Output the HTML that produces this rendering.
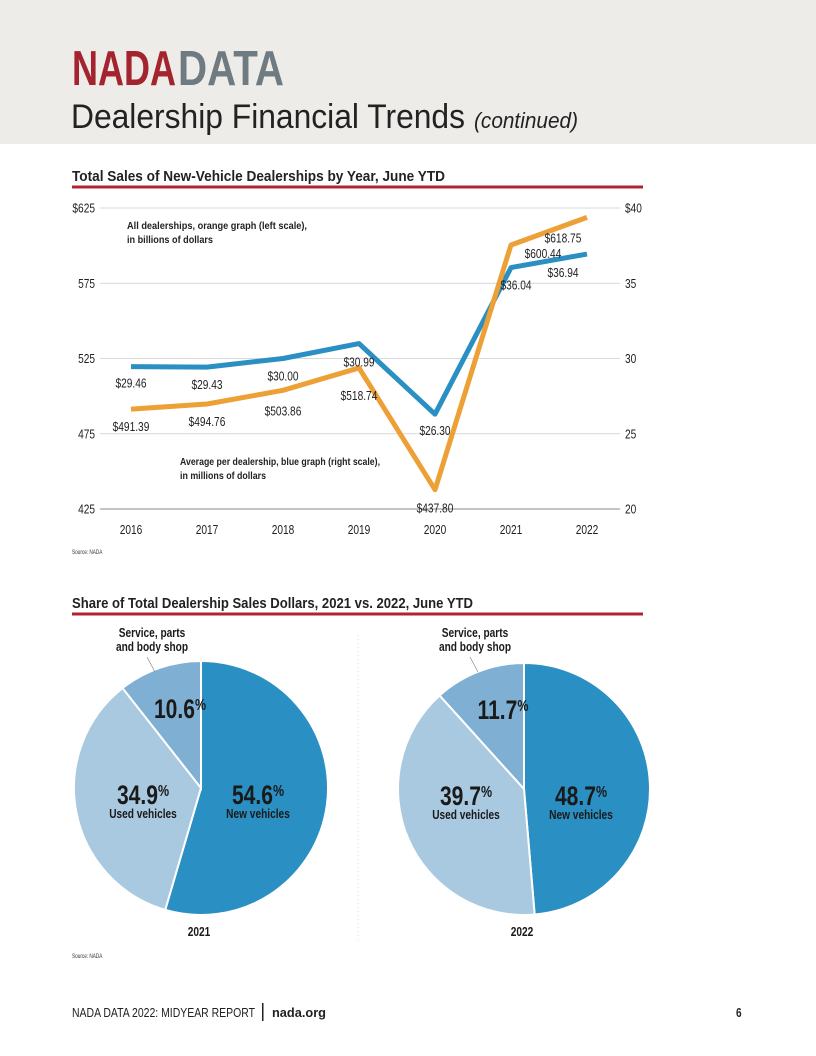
<!DOCTYPE html>
<html><head><meta charset="utf-8"><style>
html,body{margin:0;padding:0;background:#fff}
svg{display:block}
text{font-family:"Liberation Sans Narrow","Liberation Sans",sans-serif}
.b{font-weight:bold}
</style></head><body>
<svg id="pg" width="816" height="1056" viewBox="0 0 816 1056" xmlns="http://www.w3.org/2000/svg">
<rect x="0" y="0" width="816" height="144" fill="#eeece9"/>
<text x="72" y="85" font-size="49" class="b" fill="#a3242e" textLength="104" lengthAdjust="spacingAndGlyphs">NADA</text>
<text x="178" y="85" font-size="49" class="b" fill="#6f7b80" textLength="106" lengthAdjust="spacingAndGlyphs">DATA</text>
<text x="71" y="128" font-size="34" fill="#222" textLength="394" lengthAdjust="spacingAndGlyphs">Dealership Financial Trends</text>
<text x="474" y="128" font-size="22" font-style="italic" fill="#222" textLength="104" lengthAdjust="spacingAndGlyphs">(continued)</text>

<text x="72" y="181" font-size="14.5" class="b" fill="#222" textLength="373" lengthAdjust="spacingAndGlyphs">Total Sales of New-Vehicle Dealerships by Year, June YTD</text>
<rect x="72" y="185.5" width="571" height="3" fill="#b0232f"/>
<g id="line"></g>
<text x="72" y="554" font-size="6" fill="#333">Source: NADA</text>

<text x="72" y="608" font-size="14.5" class="b" fill="#222" textLength="401" lengthAdjust="spacingAndGlyphs">Share of Total Dealership Sales Dollars, 2021 vs. 2022, June YTD</text>
<rect x="72" y="612.5" width="571" height="3" fill="#b0232f"/>
<line x1="358" y1="635" x2="358" y2="940" stroke="#ddd" stroke-width="1" stroke-dasharray="1 3"/>
<g id="pies"></g>
<text x="72" y="958" font-size="6" fill="#333">Source: NADA</text>

<text x="72" y="1017" font-size="13" fill="#222" textLength="183" lengthAdjust="spacingAndGlyphs">NADA DATA 2022: MIDYEAR REPORT</text>
<rect x="262" y="1003" width="1.5" height="18" fill="#222"/>
<text x="272" y="1017" font-size="13" class="b" fill="#222" textLength="54" lengthAdjust="spacingAndGlyphs">nada.org</text>
<text x="736" y="1017" font-size="13" class="b" fill="#222">6</text>
</svg>
<script>
const years=["2016","2017","2018","2019","2020","2021","2022"];
const totalSales=[491.39,494.76,503.86,518.74,437.80,600.44,618.75];
const avgSales=[29.46,29.43,30.00,30.99,26.30,36.04,36.94];
const totalLabels=["$491.39","$494.76","$503.86","$518.74","$437.80","$600.44","$618.75"];
const avgLabels=["$29.46","$29.43","$30.00","$30.99","$26.30","$36.04","$36.94"];
const leftTicks=[425,475,525,575,625];
const rightTicks=[20,25,30,35,40];
const pie2021=[54.6,34.9,10.6];
const pie2022=[48.7,39.7,11.7];
const pieCats=["New vehicles","Used vehicles","Service"];

const NS="http://www.w3.org/2000/svg";
function mk(tag,attrs,parent,txt){const e=document.createElementNS(NS,tag);for(const k in attrs)e.setAttribute(k,attrs[k]);if(txt!==undefined)e.textContent=txt;parent.appendChild(e);return e;}
const X0=131,XS=76,YT=208,YB=509;
const xs=i=>X0+i*XS;
const yl=v=>YB-(v-425)/(625-425)*(YB-YT);
const yr=v=>YB-(v-20)/(40-20)*(YB-YT);
const FS=13;
const g=document.getElementById('line');
leftTicks.forEach((t,i)=>{
  const y=yl(t);
  const ln=mk('line',{x1:100,x2:620,y1:y,y2:y,stroke:i==0?'#888':'#ccc','stroke-width':i==0?1:0.7},g);
  
  const a=mk('text',{x:95,y:y+4.5,'font-size':FS,fill:'#222','text-anchor':'end'},g,(i==4?'$':'')+t);
  
});
rightTicks.forEach((t,i)=>{
  const b=mk('text',{x:625,y:yr(t)+4.5,'font-size':FS,fill:'#222'},g,(i==4?'$':'')+t);
  
});
years.forEach((yv,i)=>{
  const t=mk('text',{x:xs(i),y:534,'font-size':FS,fill:'#222','text-anchor':'middle'},g,yv);
  
});
const bl=mk('polyline',{points:avgSales.map((v,i)=>xs(i)+','+yr(v)).join(' '),fill:'none',stroke:'#2a8fc2','stroke-width':5,'stroke-linejoin':'round'},g);

const ol=mk('polyline',{points:totalSales.map((v,i)=>xs(i)+','+yl(v)).join(' '),fill:'none',stroke:'#eca035','stroke-width':5,'stroke-linejoin':'round'},g);

const oOff=[[0,22],[0,22],[0,25],[0,32],[0,23],[32,13],[-24,25]];
const bOff=[[0,21],[0,22],[0,22],[0,23],[0,21],[5,22],[-24,23]];
totalLabels.forEach((s,i)=>{
  const t=mk('text',{x:xs(i)+oOff[i][0],y:yl(totalSales[i])+oOff[i][1],'font-size':FS,fill:'#222','text-anchor':'middle'},g,s);
  
});
avgLabels.forEach((s,i)=>{
  const t=mk('text',{x:xs(i)+bOff[i][0],y:yr(avgSales[i])+bOff[i][1],'font-size':FS,fill:'#222','text-anchor':'middle'},g,s);
  
});
[["All dealerships, orange graph (left scale),",127,229,180],["in billions of dollars",127,243,86],["Average per dealership, blue graph (right scale),",180,465,200],["in millions of dollars",180,479,86]].forEach(a=>{
  const t=mk('text',{x:a[1],y:a[2],'font-size':10.5,'font-weight':'bold',fill:'#222',textLength:a[3],lengthAdjust:'spacingAndGlyphs'},g,a[0]);
  
});

const pg=document.getElementById('pies');
const cols=['#2a8fc2','#a9c9e1','#7fb0d4'];
function pie(vals,cx,cy,r,lab){
  const tot=vals.reduce((a,b)=>a+b,0);let a0=0;
  vals.forEach((v,i)=>{
    const a1=a0+v/tot*2*Math.PI;
    const p=(a)=>[cx+r*Math.sin(a),cy-r*Math.cos(a)];
    const s=p(a0),e=p(a1);
    const path=mk('path',{d:`M${cx},${cy}L${s[0]},${s[1]}A${r},${r} 0 ${a1-a0>Math.PI?1:0} 1 ${e[0]},${e[1]}Z`,fill:cols[i],stroke:'#fff','stroke-width':2},pg);
    
    
    a0=a1;
  });
  const pos=[[cx+57,cy+16],[cx-58,cy+16],[cx-21,cy-70]];
  vals.forEach((v,i)=>{
    const t=mk('text',{x:pos[i][0],y:pos[i][1],'font-size':27,'font-weight':'bold',fill:'#1a1a1a','text-anchor':'middle'},pg);
    
    mk('tspan',{},t,v.toFixed(1));
    mk('tspan',{'font-size':16,dy:-8},t,'%');
  });
  const n=mk('text',{x:pos[0][0],y:pos[0][1]+14,'font-size':13,'font-weight':'bold',fill:'#1a1a1a','text-anchor':'middle'},pg,'New vehicles');
  
  const u=mk('text',{x:pos[1][0],y:pos[1][1]+14,'font-size':13,'font-weight':'bold',fill:'#1a1a1a','text-anchor':'middle'},pg,'Used vehicles');
  
  const s1=mk('text',{x:cx-49,y:637,'font-size':13,'font-weight':'bold',fill:'#1a1a1a','text-anchor':'middle'},pg,'Service, parts');
  
  const s2=mk('text',{x:cx-49,y:651,'font-size':13,'font-weight':'bold',fill:'#1a1a1a','text-anchor':'middle'},pg,'and body shop');
  
  const l=mk('line',{x1:cx-54,y1:657,x2:cx-46,y2:672,stroke:'#888','stroke-width':0.7},pg);
  
  const y=mk('text',{x:cx-2,y:936,'font-size':13,'font-weight':'bold',fill:'#1a1a1a','text-anchor':'middle'},pg,lab);
  
}
pie(pie2021,201,788,127,'2021');
pie(pie2022,524,789,126,'2022');

document.querySelectorAll('#pg text').forEach(t=>{
  if(t.hasAttribute('textLength'))return;
  const w=t.getComputedTextLength();
  if(w>0){t.setAttribute('textLength',(w*0.78).toFixed(1));t.setAttribute('lengthAdjust','spacingAndGlyphs');}
});
</script>
</body></html>
